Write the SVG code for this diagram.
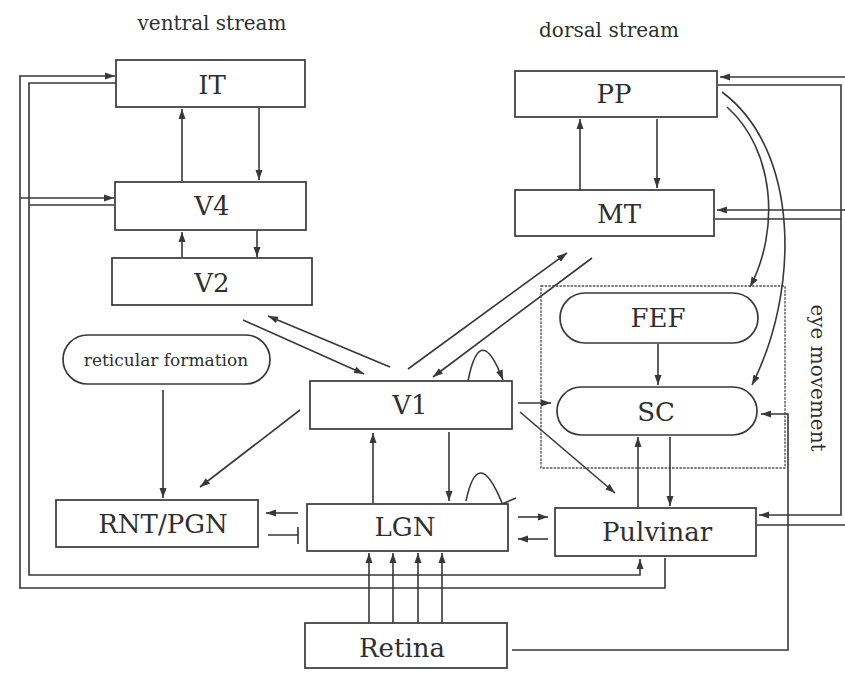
<svg xmlns="http://www.w3.org/2000/svg" width="845" height="673" viewBox="0 0 845 673">
<defs>
<marker id="ah" markerUnits="userSpaceOnUse" markerWidth="11" markerHeight="8" refX="10" refY="4" orient="auto">
<path d="M0,0.5 L10,4 L0,7.5 z" fill="#383838"/>
</marker>
<style>
.box{fill:#fff;stroke:#383838;stroke-width:1.7}
.lbl{font-family:"DejaVu Serif","Liberation Serif",serif;font-size:26px;fill:#2f2f2f;text-anchor:middle}
.cap{font-family:"DejaVu Serif","Liberation Serif",serif;font-size:20px;fill:#2f2f2f;text-anchor:middle}
.small{font-family:"DejaVu Serif","Liberation Serif",serif;font-size:17px;fill:#2f2f2f;text-anchor:middle}
.c{fill:none;stroke:#383838;stroke-width:1.6}
.a{marker-end:url(#ah)}
.dot{fill:none;stroke:#555;stroke-width:1.4;stroke-dasharray:2.5 1.2}
</style>
</defs>
<rect width="845" height="673" fill="#fff"/>
<text class="cap" x="212" y="30">ventral stream</text>
<text class="cap" x="609" y="37">dorsal stream</text>
<rect id="eye-movement-region" class="dot" x="541" y="286" width="244" height="182"/>
<text class="cap" transform="translate(811,378) rotate(90)">eye movement</text>
<g id="connectors">
<path class="c a" d="M259,108 L259,180"/>
<path class="c a" d="M182,181 L182,109"/>
<path class="c a" d="M257,231 L257,257"/>
<path class="c a" d="M182,257 L182,232"/>
<path class="c a" d="M390,367 L268,316"/>
<path class="c a" d="M243,320 L364,374"/>
<path class="c a" d="M408,369 L567,253"/>
<path class="c a" d="M592,258 L433,377"/>
<path class="c a" d="M468,381 Q480,320 503,380"/>
<path class="c a" d="M518,403 L551,403"/>
<path class="c a" d="M520,412 L615,493"/>
<path class="c a" d="M449,432 L449,501"/>
<path class="c a" d="M373,503 L373,433"/>
<path class="c" d="M466,501 Q478,444 502,503"/>
<path class="c" d="M490,509 L516,498"/>
<path class="c a" d="M518,517 L548,517"/>
<path class="c a" d="M548,539 L518,539"/>
<path class="c a" d="M298,513 L266,513"/>
<path class="c" d="M268,535 L298,535 M298,527 L298,544"/>
<path class="c a" d="M163,390 L163,498"/>
<path class="c a" d="M300,410 L200,487"/>
<path class="c a" d="M369,623 L369,553"/>
<path class="c a" d="M393,623 L393,553"/>
<path class="c a" d="M418,623 L418,553"/>
<path class="c a" d="M442,623 L442,553"/>
<path class="c a" d="M665,558 L665,588 L20,588 L20,76 L115,76"/>
<path class="c a" d="M20,198 L114,198"/>
<path class="c a" d="M116,83 L29,83 L29,575 L640,575 L640,559"/>
<path class="c" d="M114,205 L29,205"/>
<path class="c a" d="M580,190 L580,119"/>
<path class="c a" d="M657,119 L657,188"/>
<path class="c a" d="M722,92 C800,150 800,290 752,385"/>
<path class="c a" d="M727,107 C775,150 780,230 750,287"/>
<path class="c a" d="M658,344 L658,385"/>
<path class="c a" d="M638,507 L638,437"/>
<path class="c a" d="M670,437 L670,506"/>
<path class="c a" d="M845,77 L720,77"/>
<path class="c a" d="M845,210 L717,210"/>
<path class="c" d="M757,525 L845,525"/>
<path class="c a" d="M718,85 L841,85 L841,515 L759,515"/>
<path class="c" d="M715,219 L841,219"/>
<path class="c a" d="M512,650 L788,650 L788,414 L761,414"/>
</g>
<g id="IT"><rect class="box" x="116" y="60" width="189" height="47"/><text class="lbl" x="212" y="94">IT</text></g>
<g id="V4"><rect class="box" x="115" y="182" width="191" height="48"/><text class="lbl" x="212" y="215">V4</text></g>
<g id="V2"><rect class="box" x="112" y="258" width="200" height="47"/><text class="lbl" x="212" y="292">V2</text></g>
<g id="reticular-formation"><rect class="box" x="63" y="335" width="207" height="49" rx="24.5"/><text class="small" x="166" y="366">reticular formation</text></g>
<g id="V1"><rect class="box" x="310" y="381" width="202" height="48"/><text class="lbl" x="410" y="414">V1</text></g>
<g id="RNT-PGN"><rect class="box" x="56" y="500" width="202" height="47"/><text class="lbl" x="163" y="533">RNT/PGN</text></g>
<g id="LGN"><rect class="box" x="307" y="504" width="201" height="47"/><text class="lbl" x="405" y="536">LGN</text></g>
<g id="Retina"><rect class="box" x="305" y="623" width="202" height="45"/><text class="lbl" x="402" y="657">Retina</text></g>
<g id="Pulvinar"><rect class="box" x="555" y="508" width="201" height="48"/><text class="lbl" x="657" y="541">Pulvinar</text></g>
<g id="PP"><rect class="box" x="515" y="71" width="202" height="46"/><text class="lbl" x="614" y="103">PP</text></g>
<g id="MT"><rect class="box" x="515" y="190" width="199" height="46"/><text class="lbl" x="619" y="223">MT</text></g>
<g id="FEF"><rect class="box" x="560" y="293" width="198" height="50" rx="25"/><text class="lbl" x="658" y="327">FEF</text></g>
<g id="SC"><rect class="box" x="557" y="387" width="200" height="48" rx="24"/><text class="lbl" x="656" y="421">SC</text></g>
</svg>
